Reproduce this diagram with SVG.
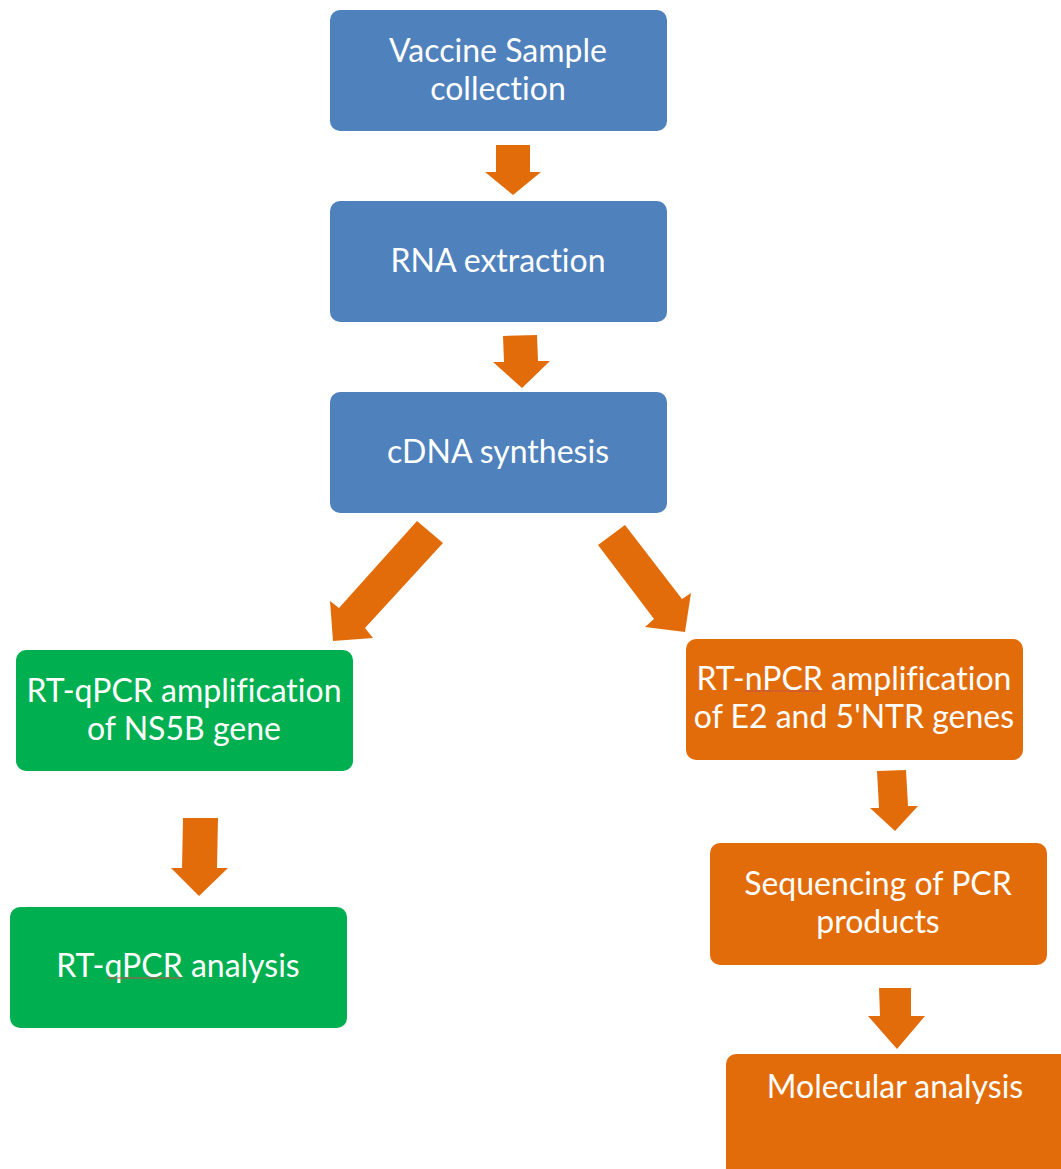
<svg xmlns="http://www.w3.org/2000/svg" width="1061" height="1169" viewBox="0 0 1061 1169">
<style>
.blue{fill:#4F81BD}
.green{fill:#00B050}
.orange{fill:#E36C0A}
.arr{fill:#E36C0A}
text{font-family:Lato,"Open Sans","Liberation Sans",sans-serif;font-size:32px;fill:#FFFFFF;text-anchor:middle;font-variant-ligatures:none}
.sq{stroke:#C0504D;stroke-width:1.2;fill:none}
</style>
<rect width="1061" height="1169" fill="#FFFFFF"/>
<g id="n1"><rect class="blue" x="330" y="10" width="337" height="121" rx="10"/><text x="498" y="62">Vaccine Sample</text><text x="498" y="100">collection</text></g>
<g id="n2"><rect class="blue" x="330" y="201" width="337" height="121" rx="10"/><text x="498" y="272">RNA extraction</text></g>
<g id="n3"><rect class="blue" x="330" y="392" width="337" height="121" rx="10"/><text x="498" y="463">cDNA synthesis</text></g>
<g id="n4"><rect class="green" x="16" y="650" width="337" height="121" rx="10"/><text x="184" y="702">RT-qPCR amplification</text><text x="184" y="740">of NS5B gene</text></g>
<g id="n5"><rect class="green" x="10" y="907" width="337" height="121" rx="10"/><text x="178" y="977">RT-qPCR analysis</text><path class="sq" d="M107 978 H181"/></g>
<g id="n6"><rect class="orange" x="686" y="639" width="337" height="121" rx="10"/><text x="854" y="690">RT-nPCR amplification</text><text x="854" y="728">of E2 and 5'NTR genes</text><path class="sq" d="M745 691 H819"/></g>
<g id="n7"><rect class="orange" x="710" y="843" width="337" height="122" rx="10"/><text x="878" y="895">Sequencing of PCR</text><text x="878" y="933">products</text></g>
<g id="n8"><rect class="orange" x="726" y="1054" width="345" height="130" rx="10"/><text x="895" y="1098">Molecular analysis</text></g>
<g id="connectors">
<polygon class="arr" points="496,145 530,145 530,172 541,172 513,195 485,172 496,172"/>
<polygon class="arr" points="503,336 537,335 538,361 550,361 522,388 493,362 504,362"/>
<polygon class="arr" points="417,521 443,543 365,628 373,638 333,641 330,601 339,608"/>
<polygon class="arr" points="598,545 625,525 682,599 691,593 685,632 645,627 654,619"/>
<polygon class="arr" points="183,818 218,818 217,868 228,868 199,896 171,868 182,868"/>
<polygon class="arr" points="877,771 906,770 908,806 918,806 895,831 870,808 879,808"/>
<polygon class="arr" points="879,988 911,988 911,1016 925,1016 897,1049 868,1016 880,1016"/>
</g>
</svg>
